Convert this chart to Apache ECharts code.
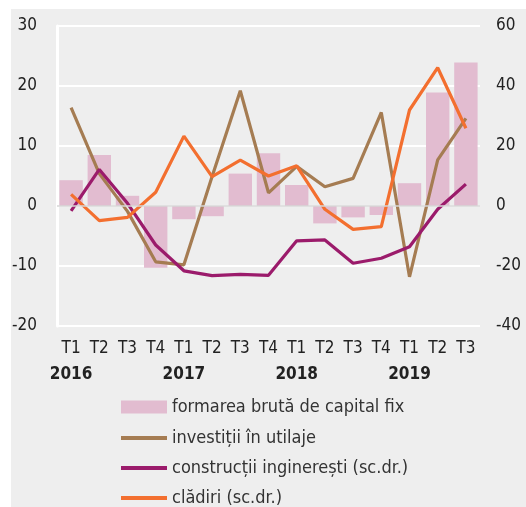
<!DOCTYPE html>
<html>
<head>
<meta charset="utf-8">
<script src="https://cdn.jsdelivr.net/npm/echarts@6/dist/echarts.min.js"></script>
<style>
  html, body { margin: 0; padding: 0; background: #fff; }
  #chart { width: 526px; height: 507px; }
</style>
</head>
<body>
<div id="chart"></div>
<script>
// trimestre
const quarters = ['T1', 'T2', 'T3', 'T4', 'T1', 'T2', 'T3', 'T4', 'T1', 'T2', 'T3', 'T4', 'T1', 'T2', 'T3'];
const years = ['2016', '', '', '', '2017', '', '', '', '2018', '', '', '', '2019', '', ''];

// axa stanga
const fbcf = [4.3, 8.5, 1.7, -10.3, -2.2, -1.7, 5.4, 8.8, 3.5, -2.9, -1.9, -1.5, 3.8, 18.9, 23.9];
const utilaje = [16.4, 5.4, -0.9, -9.3, -9.8, 4.9, 19.2, 2.2, 6.6, 3.2, 4.6, 15.6, -11.8, 7.7, 14.6];
// axa dreapta
const constructii = [-1.6, 12.2, 0.9, -13, -21.6, -23.2, -22.8, -23.1, -11.6, -11.3, -19.1, -17.4, -13.6, -1.1, 7.3];
const cladiri = [3.9, -4.9, -3.8, 4.6, 23.3, 9.8, 15.3, 10, 13.4, -1.1, -7.8, -6.9, 32, 46.1, 25.9];

const names = ['formarea brută de capital fix', 'investiții în utilaje', 'construcții inginerești (sc.dr.)', 'clădiri (sc.dr.)'];
const FONT = '"DejaVu Sans Condensed", "Liberation Sans", sans-serif';

const chart = echarts.init(document.getElementById('chart'));

const lineStyle = (color) => ({ width: 3.2, color: color });

// o legenda pe fiecare rand
const legendTops = [398, 429, 459, 489];
const legends = names.map((n, i) => ({
  left: 121,
  top: legendTops[i],
  itemWidth: 46,
  itemHeight: i === 0 ? 13 : 4,
  itemGap: 0,
  padding: 0,
  textStyle: { fontSize: 18, color: '#333', fontFamily: FONT },
  data: [{ name: n, icon: 'rect' }]
}));

chart.setOption({
  backgroundColor: '#ffffff',
  animation: false,
  textStyle: { fontFamily: FONT },
  graphic: [{
    type: 'rect',
    z: -10,
    shape: { x: 11, y: 9, width: 515, height: 498 },
    style: { fill: '#eeeeee' }
  }],
  grid: { left: 57, right: 46, top: 26, bottom: 181 },
  legend: legends,
  xAxis: {
    type: 'category',
    data: quarters,
    axisLine: { show: false },
    axisTick: { show: false },
    axisLabel: {
      margin: 10,
      interval: 0,
      lineHeight: 26,
      color: '#222',
      fontSize: 17,
      formatter: (v, i) => years[i] ? v + '\n{y|' + years[i] + '}' : v,
      rich: { y: { fontSize: 17, fontWeight: 'bold', color: '#222', lineHeight: 26 } }
    }
  },
  yAxis: [{
    type: 'value',
    min: -20,
    max: 30,
    interval: 10,
    axisLine: { show: true, lineStyle: { color: '#ffffff', width: 3 } },
    axisTick: { show: false },
    axisLabel: { color: '#222', fontSize: 17, margin: 20 },
    splitLine: { lineStyle: { color: '#ffffff', width: 2 } }
  }, {
    type: 'value',
    min: -40,
    max: 60,
    interval: 20,
    axisLine: { show: false },
    axisTick: { show: false },
    axisLabel: { color: '#222', fontSize: 17, margin: 16 },
    splitLine: { show: false }
  }],
  series: [{
    name: names[0],
    type: 'bar',
    data: fbcf,
    barCategoryGap: '17%',
    itemStyle: { color: '#e2bcd0' },
    markLine: {
      silent: true,
      symbol: 'none',
      label: { show: false },
      lineStyle: { color: '#d6d6d6', width: 1.5, type: 'solid' },
      data: [{ yAxis: 0 }]
    }
  }, {
    name: names[1],
    type: 'line',
    data: utilaje,
    symbol: 'none',
    lineStyle: lineStyle('#a57c52'),
    itemStyle: { color: '#a57c52' }
  }, {
    name: names[2],
    type: 'line',
    yAxisIndex: 1,
    data: constructii,
    symbol: 'none',
    lineStyle: lineStyle('#9b1b6b'),
    itemStyle: { color: '#9b1b6b' }
  }, {
    name: names[3],
    type: 'line',
    yAxisIndex: 1,
    data: cladiri,
    symbol: 'none',
    lineStyle: lineStyle('#f36f2f'),
    itemStyle: { color: '#f36f2f' }
  }]
});
</script>
</body>
</html>
